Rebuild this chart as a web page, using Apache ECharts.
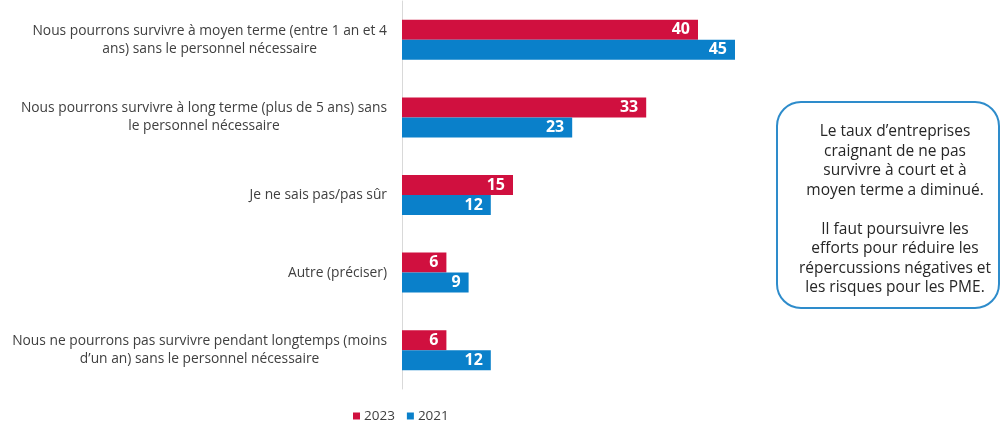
<!DOCTYPE html>
<html>
<head>
<meta charset="utf-8">
<script src="https://cdn.jsdelivr.net/npm/echarts@6/dist/echarts.min.js"></script>
<style>html,body{margin:0;padding:0;background:#fff}#c{width:1000px;height:421px}</style>
</head>
<body>
<div id="c"></div>
<script>
const categories = [
  "Nous pourrons survivre à moyen terme (entre 1 an et 4\nans) sans le personnel nécessaire",
  "Nous pourrons survivre à long terme (plus de 5 ans) sans\nle personnel nécessaire",
  "Je ne sais pas/pas sûr",
  "Autre (préciser)",
  "Nous ne pourrons pas survivre pendant longtemps (moins\nd’un an) sans le personnel nécessaire"
];
const seriesNames = ["2023", "2021"];
const values2023 = [40, 33, 15, 6, 6];
const values2021 = [45, 23, 12, 9, 12];
const noteText = "Le taux d’entreprises\ncraignant de ne pas\nsurvivre à court et à\nmoyen terme a diminué.\n\nIl faut poursuivre les\nefforts pour réduire les\nrépercussions négatives et\nles risques pour les PME.";

const FONT = "'Open Sans', sans-serif";
const chart = echarts.init(document.getElementById('c'), null, {renderer: 'canvas'});
const labelStyle = {
  show: true, position: 'insideRight', distance: 8,
  color: '#fff', fontWeight: 'bold', fontSize: 16, fontFamily: FONT
};
chart.setOption({
  animation: false,
  grid: {left: 402, top: 1, width: 370, height: 388, containLabel: false},
  legend: {
    data: seriesNames, left: 348, top: 404,
    itemWidth: 7, itemHeight: 7, itemGap: 12, icon: 'rect',
    textStyle: {fontSize: 13.5, color: '#404040', fontFamily: FONT, padding: [0, 0, 0, -1]}
  },
  xAxis: {type: 'value', min: 0, max: 50, show: false, splitLine: {show: false}},
  yAxis: {
    type: 'category', data: categories, inverse: true,
    axisLine: {show: true, lineStyle: {color: '#d9d9d9', width: 1}},
    axisTick: {show: false},
    axisLabel: {
      margin: 15, align: 'right',
      formatter: v => v.split('\n').map(l => '{c|' + l + '}').join('\n'),
      rich: {c: {align: 'center', fontSize: 13.8, lineHeight: 18, color: '#404040', fontFamily: FONT}}
    }
  },
  series: [
    {name: seriesNames[0], type: 'bar', data: values2023, barWidth: 20, barGap: '0%',
     itemStyle: {color: '#D0103F'}, label: labelStyle},
    {name: seriesNames[1], type: 'bar', data: values2021, barWidth: 20, barGap: '0%',
     itemStyle: {color: '#0A80CA'}, label: labelStyle}
  ],
  graphic: [
    {type: 'rect', shape: {x: 777, y: 102, width: 222, height: 206, r: 24},
     style: {fill: '#fff', stroke: '#2E8CCB', lineWidth: 2}},
    {type: 'text', x: 895, y: 210,
     style: {text: noteText, align: 'center', verticalAlign: 'middle',
             font: "15.5px 'Open Sans', sans-serif", lineHeight: 19.5, fill: '#262626'}}
  ]
});
</script>
</body>
</html>
